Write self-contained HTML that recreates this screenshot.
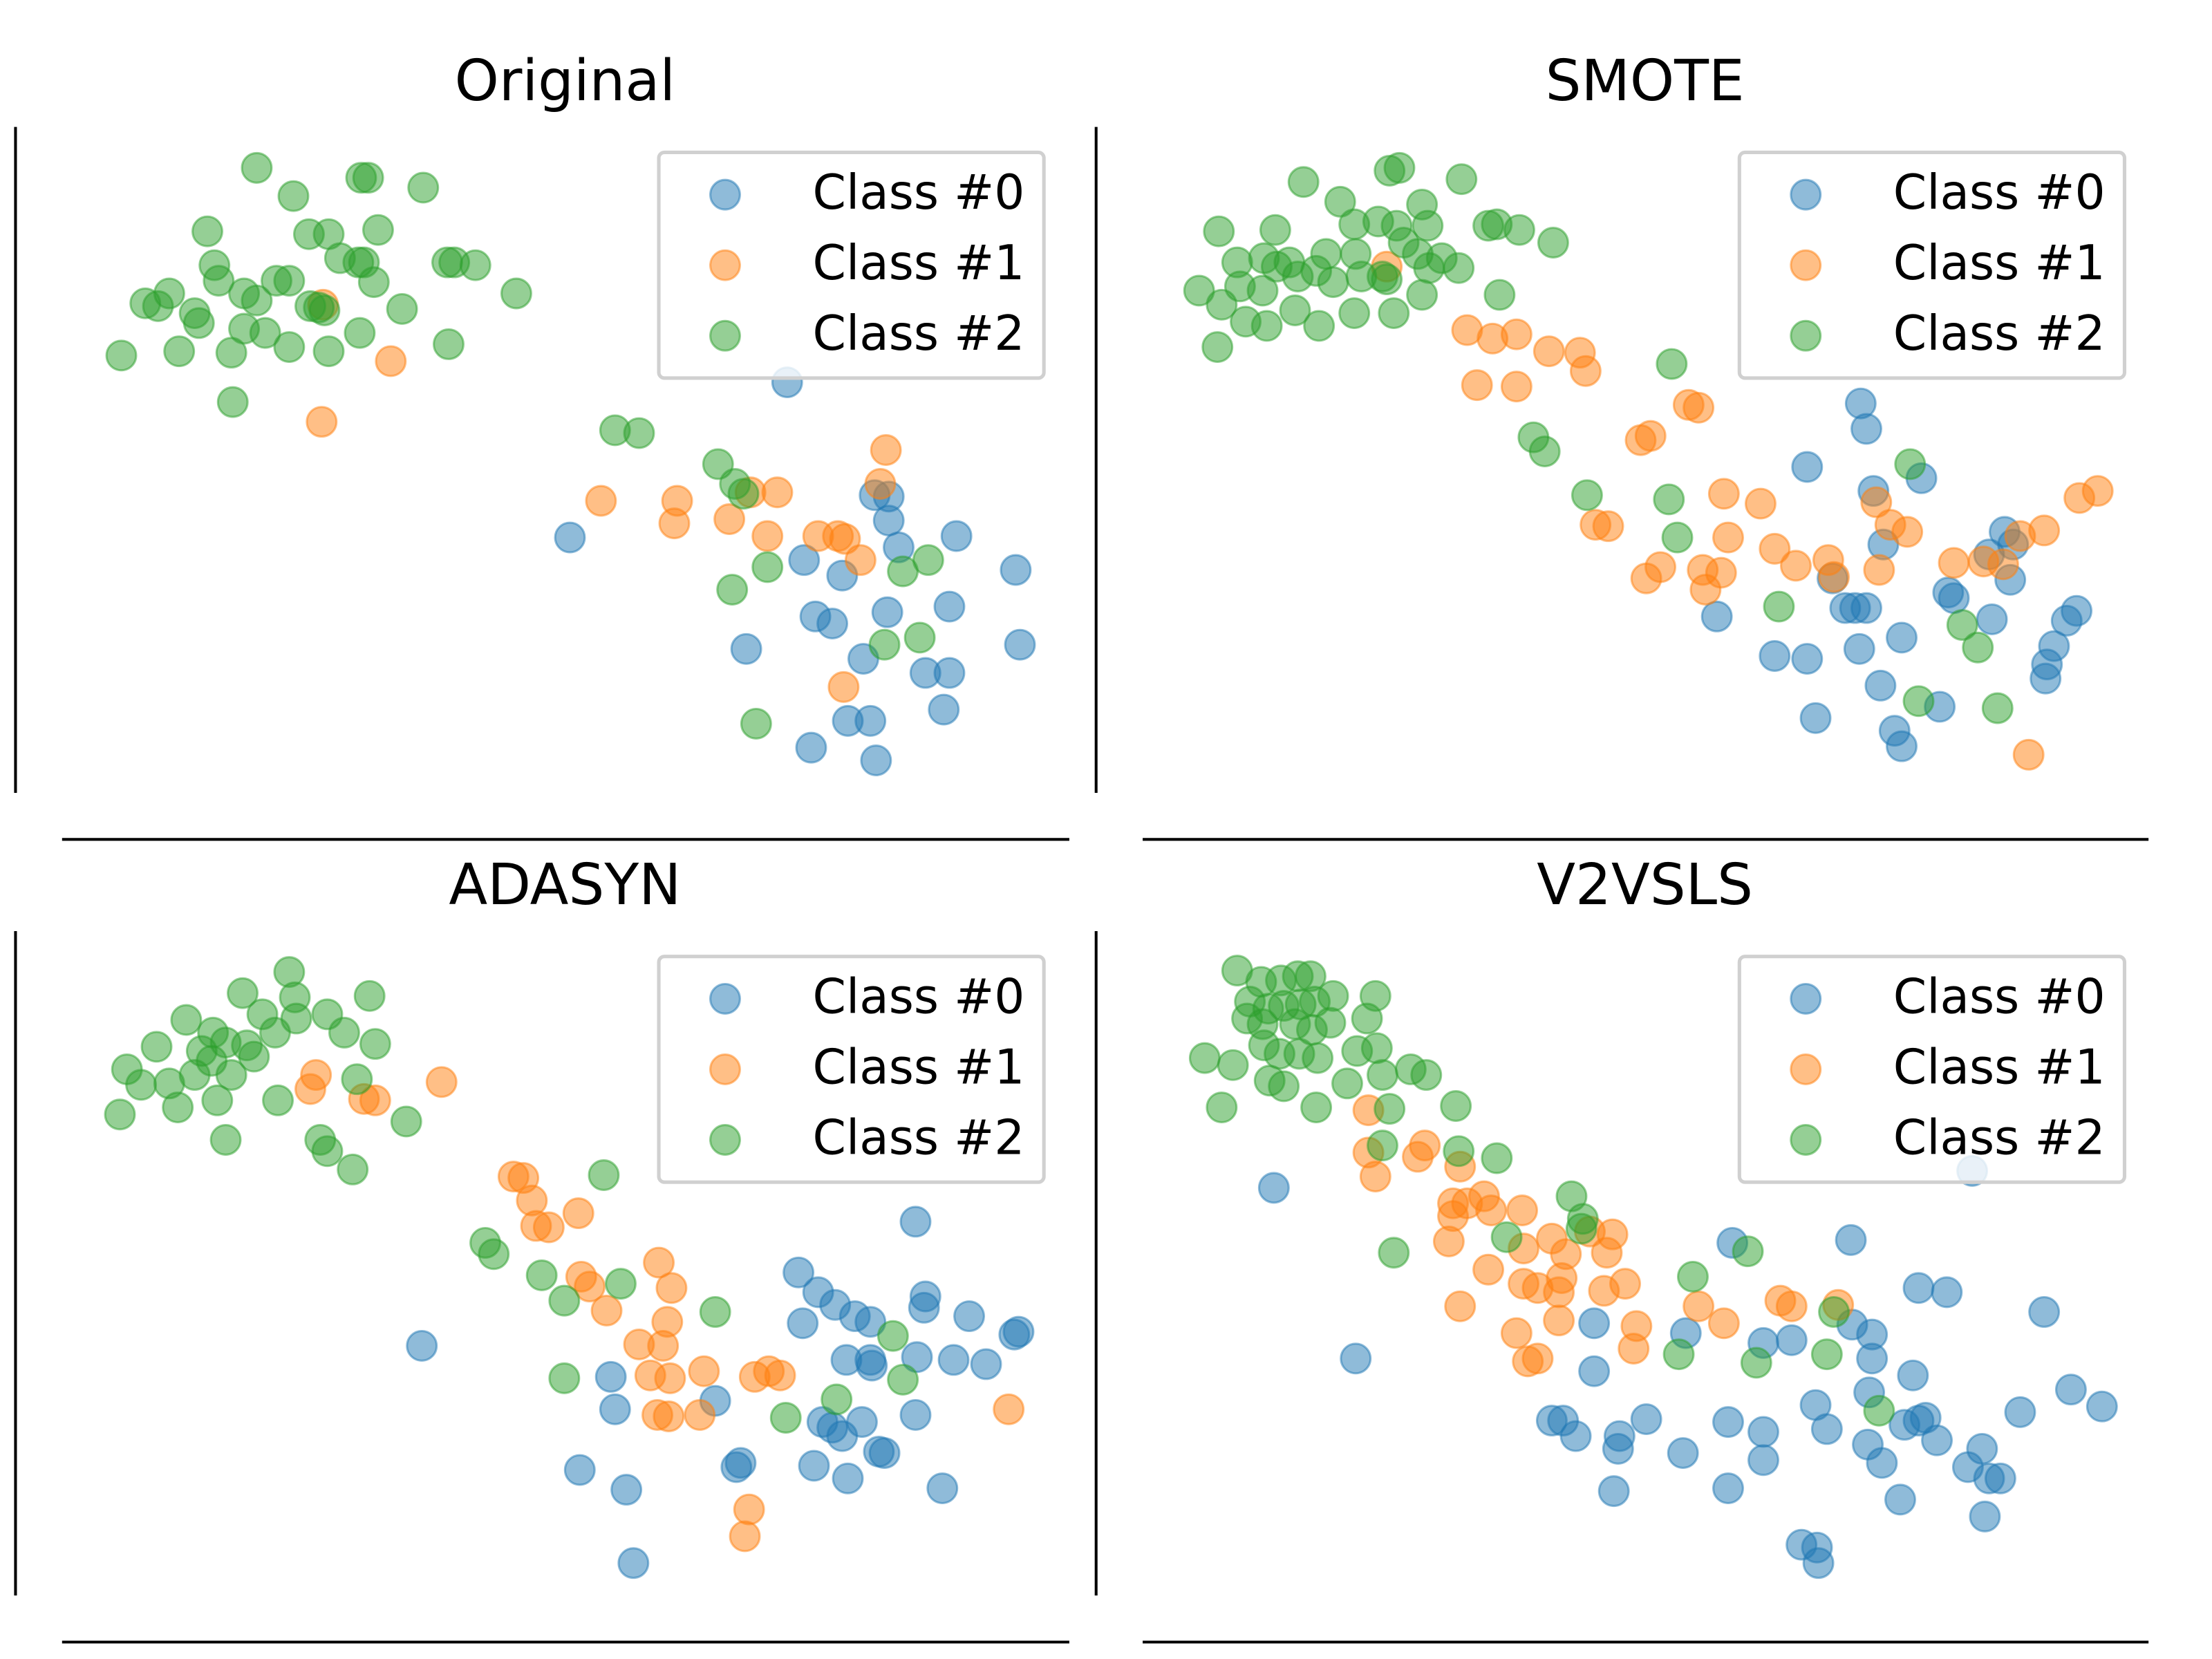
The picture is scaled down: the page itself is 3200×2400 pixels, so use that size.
<!DOCTYPE html>
<html><head><meta charset="utf-8"><style>
html,body{margin:0;padding:0;background:#fff;}
svg{display:block;}
text{font-family:"DejaVu Sans","Liberation Sans",sans-serif;fill:#000;}
</style></head><body>
<svg id="chart" width="3200" height="2400" viewBox="0 0 1568 1176" xmlns="http://www.w3.org/2000/svg"></svg>
<script>
// Panel titles
const panelTitles = ["Original", "SMOTE", "ADASYN", "V2VSLS"];
const classLabels = ["Class #0", "Class #1", "Class #2"];
// Data per panel (embedding coordinates, x domain / y domain per panel)
const origBlue = [[558,271],[404,381],[620,351],[630,352],[630,369],[678,380],[570,397],[597,408],[578,437],[590,442],[637,388],[629,434],[673,430],[720,404],[723,457],[612,467],[529,460],[656,477],[673,477],[669,503],[601,511],[617,511],[575,530],[621,539]];
const origOrange = [[229,216],[277,256],[228,299],[426,355],[480,355],[478,371],[517,368],[532,349],[551,349],[544,380],[580,380],[594,380],[599,382],[610,397],[628,319],[624,343],[598,487]];
const origGreen = [[182,119],[208,139],[256,126],[261,126],[300,133],[147,164],[219,166],[233,166],[268,163],[152,188],[241,183],[254,186],[258,186],[317,186],[322,186],[337,188],[155,199],[196,199],[205,199],[265,200],[366,208],[103,215],[112,217],[120,208],[138,222],[141,229],[173,208],[182,213],[220,217],[226,218],[285,219],[127,249],[164,250],[188,236],[173,233],[205,246],[233,249],[255,236],[318,244],[86,252],[165,285],[436,305],[453,307],[509,329],[521,343],[527,350],[544,402],[519,418],[658,397],[640,405],[627,457],[652,452],[536,513],[230,220]];
const smoteBlue = [[1319,286],[1323,304],[1281,331],[1328,348],[1362,339],[1335,386],[1421,377],[1427,386],[1410,393],[1425,411],[1381,420],[1385,424],[1412,439],[1472,433],[1465,440],[1315,431],[1323,431],[1308,431],[1217,437],[1318,460],[1258,465],[1281,467],[1348,452],[1333,486],[1456,458],[1451,471],[1450,481],[1375,501],[1287,509],[1343,518],[1348,529],[1299,410]];
const smoteOrange = [[983,189],[1040,234],[1058,240],[1075,237],[1098,249],[1120,250],[1124,263],[1047,273],[1075,274],[1197,287],[1204,289],[1163,312],[1170,309],[1222,350],[1248,357],[1131,372],[1140,373],[1225,381],[1258,389],[1273,401],[1296,397],[1167,410],[1177,402],[1207,404],[1220,406],[1209,418],[1330,356],[1340,372],[1352,377],[1332,404],[1385,399],[1406,398],[1420,400],[1432,380],[1449,376],[1474,353],[1487,348],[1438,535],[1300,409]];
const smoteGreen = [[924,129],[985,121],[992,119],[1036,127],[864,164],[904,163],[950,143],[977,157],[1008,145],[960,159],[990,160],[1012,160],[1055,160],[1061,159],[1077,163],[1101,172],[877,186],[896,183],[914,186],[940,180],[961,180],[995,172],[1005,180],[1022,183],[850,206],[866,216],[879,203],[895,206],[905,189],[920,196],[933,192],[945,200],[965,196],[980,196],[1013,190],[1034,190],[1063,209],[883,228],[898,231],[918,220],[935,231],[960,222],[988,222],[1008,209],[863,246],[1185,258],[1087,310],[1095,320],[1125,351],[1183,354],[1189,381],[1354,329],[1261,430],[1391,443],[1402,459],[1360,497],[1416,502],[983,198]];
const adaBlue = [[649,866],[299,954],[566,902],[580,916],[592,925],[606,933],[617,937],[569,938],[656,919],[655,927],[687,933],[722,944],[719,946],[600,964],[617,964],[650,962],[676,964],[699,967],[433,976],[436,999],[507,993],[583,1008],[590,1012],[597,1018],[577,1039],[601,1048],[611,1008],[623,1029],[627,1030],[649,1003],[525,1037],[522,1040],[411,1042],[444,1056],[668,1055],[449,1108],[618,968]];
const adaOrange = [[224,762],[220,772],[258,779],[266,780],[313,767],[364,834],[371,835],[377,851],[380,869],[389,870],[410,860],[412,905],[418,912],[430,929],[467,895],[476,913],[473,937],[470,954],[453,953],[461,975],[475,977],[499,972],[496,1003],[474,1004],[466,1003],[535,976],[545,972],[553,975],[531,1070],[528,1089],[715,999]];
const adaGreen = [[205,689],[172,704],[209,707],[262,706],[132,723],[210,722],[232,719],[244,732],[266,740],[186,719],[195,732],[151,732],[160,739],[175,741],[143,745],[111,742],[90,758],[100,769],[120,768],[138,762],[164,762],[180,749],[126,785],[154,780],[197,780],[85,790],[288,795],[227,808],[232,816],[250,829],[160,808],[428,833],[344,881],[350,889],[384,904],[440,910],[400,922],[507,930],[633,947],[640,978],[400,977],[557,1005],[593,992],[150,752],[253,765]];
const v2Blue = [[1398,830],[903,842],[1228,881],[1312,879],[1360,913],[1380,916],[1449,930],[1130,938],[1195,945],[1250,952],[1270,950],[1313,939],[1327,946],[1327,963],[1356,975],[1325,987],[1287,996],[1360,1007],[1432,1001],[1468,985],[1490,997],[961,963],[1130,972],[1100,1007],[1108,1007],[1167,1006],[1117,1018],[1148,1018],[1147,1027],[1144,1057],[1193,1030],[1225,1008],[1250,1015],[1250,1035],[1225,1055],[1295,1013],[1324,1024],[1334,1037],[1350,1010],[1365,1005],[1373,1021],[1405,1027],[1395,1040],[1410,1048],[1418,1048],[1407,1075],[1347,1063],[1277,1095],[1288,1097],[1289,1108]];
const v2Orange = [[970,787],[970,817],[975,834],[1010,812],[1005,820],[1035,827],[1030,853],[1040,853],[1052,848],[1030,862],[1057,858],[1079,858],[1080,885],[1027,880],[1055,900],[1080,910],[1090,913],[1105,916],[1100,878],[1110,889],[1127,873],[1139,888],[1143,875],[1137,915],[1152,910],[1035,926],[1075,945],[1105,936],[1083,965],[1090,963],[1160,940],[1158,956],[1204,926],[1222,938],[1262,922],[1270,926],[1303,925],[1107,906]];
const v2Green = [[877,688],[894,696],[908,695],[920,692],[929,692],[886,710],[899,715],[910,713],[922,712],[932,710],[945,706],[975,706],[884,722],[895,726],[918,726],[930,730],[943,725],[969,722],[854,750],[874,755],[896,741],[907,747],[921,747],[934,750],[962,745],[900,766],[910,770],[933,785],[955,768],[866,785],[980,762],[1000,758],[1011,762],[1032,784],[985,786],[980,812],[1034,816],[1061,821],[1114,848],[1122,864],[1121,871],[1068,877],[1239,887],[1200,905],[1300,930],[1190,960],[1245,966],[1295,960],[1332,1000],[988,888],[976,743]];

const colors = ["#1f77b4", "#ff7f0e", "#2ca02c"];
const NS = "http://www.w3.org/2000/svg";
const svg = document.getElementById("chart");
function mk(tag, attrs, parent){const e=document.createElementNS(NS,tag);for(const k in attrs)e.setAttribute(k,attrs[k]);(parent||svg).appendChild(e);return e;}

const panels = [
  {x0:11,x1:758,y0:90,y1:562,dx:[11,758],dy:[90,562],series:[origBlue,origOrange,origGreen],name:"original"},
  {x0:777,x1:1523,y0:90,y1:562,dx:[777,1523],dy:[90,562],series:[smoteBlue,smoteOrange,smoteGreen],name:"smote"},
  {x0:11,x1:758,y0:660,y1:1131,dx:[11,758],dy:[660,1131],series:[adaBlue,adaOrange,adaGreen],name:"adasyn"},
  {x0:777,x1:1523,y0:660,y1:1131,dx:[777,1523],dy:[660,1131],series:[v2Blue,v2Orange,v2Green],name:"v2vsls"}
];

panels.forEach((p,i)=>{
  const g = mk("g",{});
  
  
  const xScale = v => p.x0 + (v - p.dx[0]) / (p.dx[1]-p.dx[0]) * (p.x1-p.x0);
  const yScale = v => p.y0 + (v - p.dy[0]) / (p.dy[1]-p.dy[0]) * (p.y1-p.y0);
  const t = mk("text",{x:(p.x0+p.x1)/2+16,y:p.y0-19,"text-anchor":"middle","font-size":40},g);
  t.textContent = panelTitles[i];
  
  
  const ls = mk("line",{x1:p.x0,y1:p.y0,x2:p.x0,y2:p.y1,stroke:"#000","stroke-width":2},g);
  
  
  const bs = mk("line",{x1:p.x0+33,y1:p.y1+33,x2:p.x1,y2:p.y1+33,stroke:"#000","stroke-width":2},g);
  
  
  p.series.forEach((pts,ci)=>{
    const sg = mk("g",{},g);
    
    
    pts.forEach(pt=>{
      const c = mk("circle",{cx:xScale(pt[0]),cy:yScale(pt[1]),r:10.5,fill:colors[ci],"fill-opacity":0.5,stroke:colors[ci],"stroke-opacity":0.5,"stroke-width":1.5},sg);
      
      
    });
  });
  const lg = mk("g",{},g);
  
  
  const lx = p.x0 + 456, ly = p.y0 + 18;
  mk("rect",{x:lx,y:ly,width:273,height:160,rx:4,fill:"#fff","fill-opacity":0.8,stroke:"#d0d0d0","stroke-width":2.5},lg);
  classLabels.forEach((lab,ci)=>{
    const m = mk("circle",{cx:lx+47,cy:ly+30+50*ci,r:10.5,fill:colors[ci],"fill-opacity":0.5,stroke:colors[ci],"stroke-opacity":0.5,"stroke-width":1.5},lg);
    
    
    const tx = mk("text",{x:lx+109,y:ly+40+50*ci,"font-size":34},lg);
    tx.textContent = lab;
    
    
  });
});
</script>
</body></html>
